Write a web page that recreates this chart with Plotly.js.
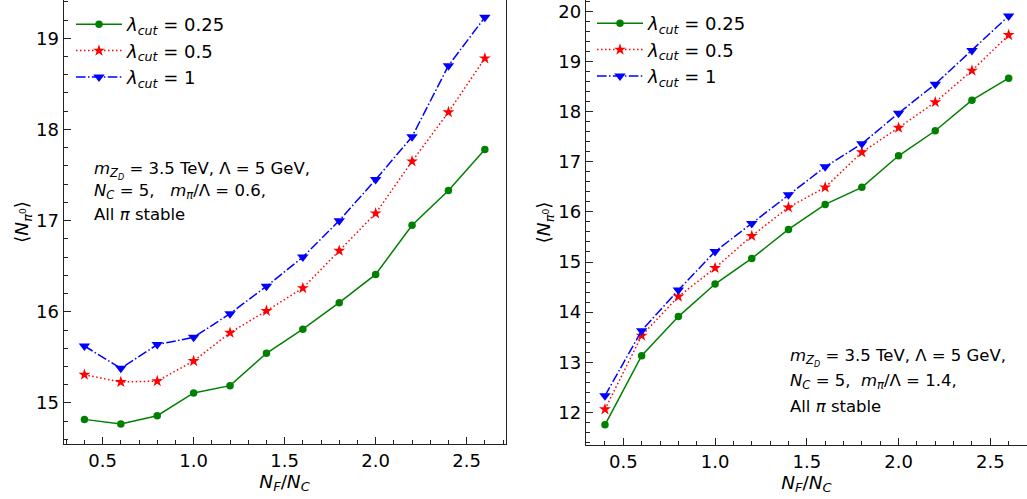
<!DOCTYPE html>
<html>
<head>
<meta charset="utf-8">
<script src="https://cdn.plot.ly/plotly-3.0.1.min.js"></script>
<style>html,body{margin:0;padding:0;background:#fff;}#chart{width:1027px;height:499px;}</style>
</head>
<body>
<div id="chart"></div>
<script>
// x values: N_F / N_C
const nfOverNc = [0.4, 0.6, 0.8, 1.0, 1.2, 1.4, 1.6, 1.8, 2.0, 2.2, 2.4, 2.6];

// Left panel: m_pi/Lambda = 0.6
const leftCut025 = [14.82, 14.77, 14.86, 15.11, 15.19, 15.545, 15.81, 16.10, 16.41, 16.95, 17.33, 17.78];
const leftCut05  = [15.31, 15.23, 15.24, 15.46, 15.77, 16.01, 16.26, 16.67, 17.08, 17.65, 18.19, 18.78];
const leftCut1   = [15.625, 15.38, 15.64, 15.72, 15.98, 16.28, 16.60, 17.00, 17.45, 17.92, 18.70, 19.23];

// Right panel: m_pi/Lambda = 1.4
const rightCut025 = [11.75, 13.13, 13.91, 14.56, 15.07, 15.65, 16.15, 16.49, 17.12, 17.62, 18.23, 18.67];
const rightCut05  = [12.06, 13.53, 14.31, 14.88, 15.52, 16.09, 16.49, 17.19, 17.68, 18.19, 18.82, 19.53];
const rightCut1   = [12.33, 13.63, 14.44, 15.21, 15.77, 16.34, 16.90, 17.36, 17.97, 18.55, 19.22, 19.91];

const seriesNames = [
  '<i>λ</i><sub><i>cut</i></sub> = 0.25',
  '<i>λ</i><sub><i>cut</i></sub> = 0.5',
  '<i>λ</i><sub><i>cut</i></sub> = 1'
];
const xTickVals = [0.5, 1.0, 1.5, 2.0, 2.5];
const xTickText = ['0.5', '1.0', '1.5', '2.0', '2.5'];
const leftYTicks = [15, 16, 17, 18, 19];
const rightYTicks = [12, 13, 14, 15, 16, 17, 18, 19, 20];

const FONT = 'DejaVu Sans, sans-serif';
const styles = [
  {line: {color: '#008000', width: 1.5, dash: 'solid'}, marker: {symbol: 'circle', size: 7.5, color: '#008000'}},
  {line: {color: '#ff0000', width: 1.5, dash: '1.5px,2.5px'}, marker: {symbol: 'star', size: 9, color: '#ff0000'}},
  {line: {color: '#0000ff', width: 1.5, dash: '9.6px,2.4px,1.5px,2.4px'}, marker: {symbol: 'triangle-down', size: 10, color: '#0000ff'}}
];

function mk(y, i, xa, ya, leg) {
  return {
    x: nfOverNc, y: y, xaxis: xa, yaxis: ya, type: 'scatter', mode: 'lines+markers',
    name: seriesNames[i], line: styles[i].line, marker: styles[i].marker,
    legend: leg
  };
}

const data = [
  mk(leftCut025, 0, 'x', 'y', 'legend'),
  mk(leftCut05, 1, 'x', 'y', 'legend'),
  mk(leftCut1, 2, 'x', 'y', 'legend'),
  mk(rightCut025, 0, 'x2', 'y2', 'legend2'),
  mk(rightCut05, 1, 'x2', 'y2', 'legend2'),
  mk(rightCut1, 2, 'x2', 'y2', 'legend2')
];

const W = 1027, H = 499;
function xaxisCfg(domain, range) {
  return {
    domain: domain, range: range, showgrid: false, zeroline: false,
    showline: true, linecolor: '#222', linewidth: 1, mirror: false,
    ticks: 'inside', ticklen: 7, tickwidth: 1, tickcolor: '#222',
    tickvals: xTickVals, ticktext: xTickText,
    tickfont: {family: FONT, size: 18, color: '#000'},
    minor: {dtick: 0.1, tick0: 0, ticks: 'inside', ticklen: 4, tickwidth: 1, tickcolor: '#222', showgrid: false},
    title: {text: '<i>N</i><sub><i>F</i></sub>/<i>N</i><sub><i>C</i></sub>', font: {family: FONT, size: 18.5, color: '#000'}, standoff: 4}
  };
}
function yaxisCfg(domain, range, ticks, mirror) {
  return {
    domain: domain, range: range, showgrid: false, zeroline: false,
    showline: true, linecolor: '#222', linewidth: 1, mirror: mirror,
    ticks: 'inside', ticklen: 7, tickwidth: 1, tickcolor: '#222',
    tickvals: ticks, ticktext: ticks.map(String),
    tickfont: {family: FONT, size: 18, color: '#000'},
    minor: {dtick: 0.2, tick0: 0, ticks: 'inside', ticklen: 4, tickwidth: 1, tickcolor: '#222', showgrid: false},
    title: {text: '⟨<i>N</i><sub><i>π</i><sup>0</sup></sub>⟩', font: {family: FONT, size: 18.5, color: '#000'}, standoff: 2}
  };
}

const annFont = {family: FONT, size: 16.5, color: '#000'};
function ann(x, y, text) {
  return {xref: 'paper', yref: 'paper', x: x / W, y: 1 - y / H, xanchor: 'left', yanchor: 'middle',
          showarrow: false, align: 'left', text: text, font: annFont};
}

const layout = {
  width: W, height: H,
  margin: {l: 0, r: 0, t: 0, b: 0},
  paper_bgcolor: '#fff', plot_bgcolor: '#fff',
  font: {family: FONT, color: '#000'},
  xaxis: xaxisCfg([63.5 / W, 505.6 / W], [0.285, 2.714]),
  yaxis: yaxisCfg([1 - 444 / H, 1], [14.55, 19.42], leftYTicks, true),
  xaxis2: Object.assign(xaxisCfg([585.7 / W, 1], [0.295, 2.70]), {anchor: 'y2'}),
  yaxis2: Object.assign(yaxisCfg([1 - 445 / H, 1], [11.347, 20.23], rightYTicks, false), {anchor: 'x2'}),
  legend: {x: 71 / W, y: 1 - 6 / H, xanchor: 'left', yanchor: 'top', bgcolor: 'rgba(0,0,0,0)',
           borderwidth: 0, font: {family: FONT, size: 18, color: '#000'}, tracegroupgap: 0, itemwidth: 46},
  legend2: {x: 592 / W, y: 1 - 5 / H, xanchor: 'left', yanchor: 'top', bgcolor: 'rgba(0,0,0,0)',
            borderwidth: 0, font: {family: FONT, size: 18, color: '#000'}, tracegroupgap: 0, itemwidth: 46},
  annotations: [
    ann(92, 170, '<i>m</i><sub><i>Z</i><sub><i>D</i></sub></sub> = 3.5 TeV, Λ = 5 GeV,'),
    ann(92, 192, '<i>N</i><sub><i>C</i></sub> = 5,   <i>m</i><sub><i>π</i></sub>/Λ = 0.6,'),
    ann(92, 214, 'All <i>π</i> stable'),
    ann(788, 357, '<i>m</i><sub><i>Z</i><sub><i>D</i></sub></sub> = 3.5 TeV, Λ = 5 GeV,'),
    ann(788, 381, '<i>N</i><sub><i>C</i></sub> = 5,  <i>m</i><sub><i>π</i></sub>/Λ = 1.4,'),
    ann(788, 406, 'All <i>π</i> stable')
  ]
};

Plotly.newPlot('chart', data, layout, {displayModeBar: false, staticPlot: true});
</script>
</body>
</html>
